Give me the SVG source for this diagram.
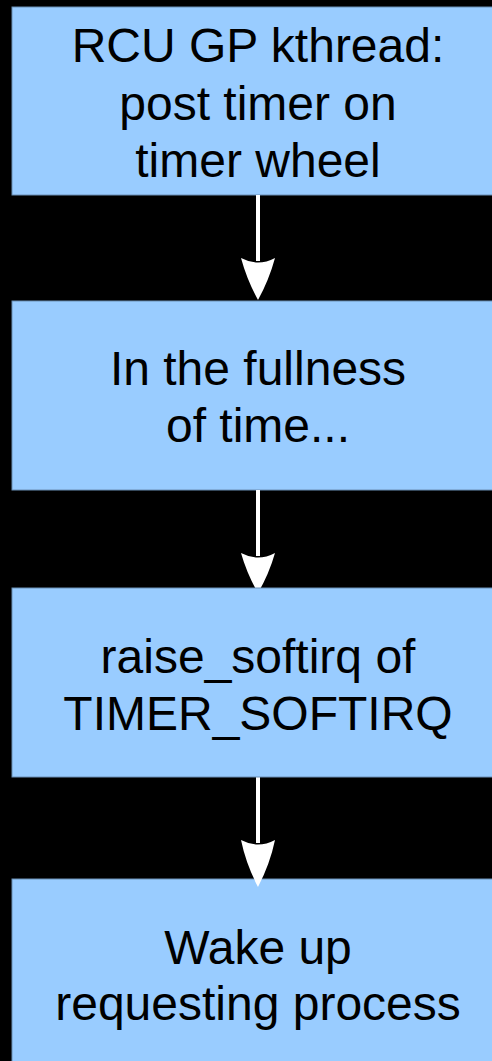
<svg xmlns="http://www.w3.org/2000/svg" width="492" height="1061" viewBox="0 0 492 1061">
  <style>
    .box { fill: #99ccff; stroke: #6a8fb5; stroke-width: 1; }
    .lbl { font-family: "Liberation Sans", Arial, sans-serif; font-size: 48px; fill: #000000; text-anchor: middle; }
    .shaft { stroke: #ffffff; stroke-width: 4; fill: none; }
    .head { fill: #ffffff; stroke: none; }
  </style>
  <rect x="0" y="0" width="492" height="1061" fill="#000000"/>
  <g id="node1">
    <rect class="box" x="12" y="7" width="500" height="188"/>
    <text class="lbl"><tspan x="258" y="62">RCU GP kthread:</tspan><tspan x="258" y="119.5">post timer on</tspan><tspan x="258" y="177">timer wheel</tspan></text>
  </g>
  <g id="node2">
    <rect class="box" x="12" y="301" width="500" height="189"/>
    <text class="lbl"><tspan x="258" y="385">In the fullness</tspan><tspan x="258" y="442">of time...</tspan></text>
  </g>
  <g id="node4">
    <rect class="box" x="12" y="879" width="500" height="200"/>
    <text class="lbl"><tspan x="258" y="964">Wake up</tspan><tspan x="258" y="1020">requesting process</tspan></text>
  </g>
  <g id="connectors">
    <line class="shaft" x1="258" y1="195" x2="258" y2="261"/>
    <path class="head" d="M241,258 Q258,267 275,258 Q269,280 258,300 Q247,280 241,258 Z"/>
    <line class="shaft" x1="258" y1="490" x2="258" y2="556"/>
    <path class="head" d="M241,553 Q258,562 275,553 Q269,574 258,593 Q247,574 241,553 Z"/>
    <line class="shaft" x1="258" y1="777" x2="258" y2="843"/>
    <path class="head" d="M241,840 Q258,849 275,840 Q270,864 258,887 Q246,864 241,840 Z"/>
  </g>
  <g id="node3">
    <rect class="box" x="12" y="588" width="500" height="189"/>
    <text class="lbl"><tspan x="258" y="673">raise_softirq of</tspan><tspan x="258" y="730">TIMER_SOFTIRQ</tspan></text>
  </g>
</svg>
